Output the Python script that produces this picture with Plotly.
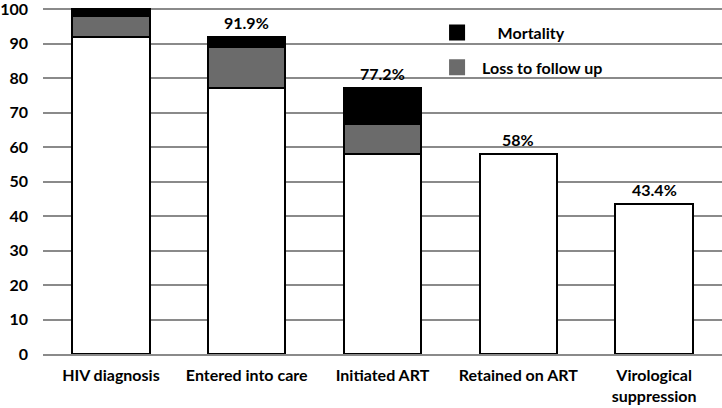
import plotly.graph_objects as go

categories = ["HIV diagnosis", "Entered into care", "Initiated ART", "Retained on ART", "Virological<br>suppression"]
retained = [91.9, 77.2, 58.0, 58.0, 43.4]
loss_to_follow_up = [6.1, 11.8, 8.8, None, None]
mortality = [2.0, 2.9, 10.4, None, None]
bar_labels = ["", "91.9%", "77.2%", "58%", "43.4%"]
y_ticks = [0, 10, 20, 30, 40, 50, 60, 70, 80, 90, 100]

FONT = "Lato"
line = dict(color="black", width=2)

fig = go.Figure()
fig.add_trace(go.Bar(x=categories, y=retained, marker=dict(color="white", line=line),
                     showlegend=False, hoverinfo="skip"))
fig.add_trace(go.Bar(x=categories, y=loss_to_follow_up, marker=dict(color="#6b6b6b", line=line),
                     showlegend=False, name="Loss to follow up"))
fig.add_trace(go.Bar(x=categories, y=mortality, marker=dict(color="black", line=line),
                     showlegend=False, name="Mortality"))

# legend entries
fig.add_trace(go.Scatter(x=[None], y=[None], mode="markers", name="\u00a0\u00a0\u00a0\u00a0Mortality",
                         marker=dict(symbol="square", size=20, color="black"),
                         legendgroup="a"))
fig.add_trace(go.Scatter(x=[None], y=[None], mode="markers", name="Loss to follow up",
                         marker=dict(symbol="square", size=20, color="#6b6b6b"),
                         legendgroup="b"))

totals = [sum(v or 0 for v in vals) for vals in zip(retained, loss_to_follow_up, mortality)]
for cat, tot, lab in zip(categories, totals, bar_labels):
    if lab:
        fig.add_annotation(x=cat, y=tot, text=lab, showarrow=False, yanchor="bottom",
                           yshift=3, font=dict(family=FONT, size=16, color="black", weight="bold"))

fig.update_layout(
    barmode="stack",
    bargap=0.43,
    width=722, height=408,
    margin=dict(l=43, r=0, t=8, b=54, autoexpand=False),
    plot_bgcolor="white", paper_bgcolor="white",
    font=dict(family=FONT, size=16, color="black", weight="bold"),
    legend=dict(x=0.573, y=0.978, xanchor="left", yanchor="top",
                bgcolor="rgba(0,0,0,0)", tracegroupgap=11, itemwidth=40,
                font=dict(family=FONT, size=16, color="black", weight="bold"),
                itemsizing="trace"),
    showlegend=True,
)
fig.update_yaxes(range=[0, 100.3], tickvals=y_ticks, showgrid=True, gridcolor="#8a8a8a",
                 gridwidth=2, zeroline=False, showline=False, ticks="",
                 ticklabelstandoff=14, automargin=False, ticklabeloverflow="allow",
                 tickfont=dict(family=FONT, size=16, color="black", weight="bold"))
fig.update_xaxes(showline=True, linecolor="#8a8a8a", linewidth=2, ticks="",
                 ticklabelstandoff=6, automargin=False,
                 tickfont=dict(family=FONT, size=16, color="black", weight="bold"))

fig.write_html("out.html", config={"displayModeBar": False},
               post_script="document.body.style.margin='0';document.body.style.overflow='hidden';")
